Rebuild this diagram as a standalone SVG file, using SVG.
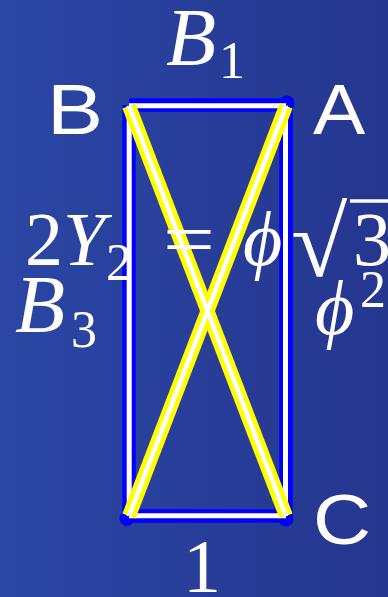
<svg xmlns="http://www.w3.org/2000/svg" width="388" height="597" viewBox="0 0 388 597">
  <defs>
    <linearGradient id="bg" x1="0" y1="0" x2="1" y2="0">
      <stop offset="0" stop-color="#2b46a4"/>
      <stop offset="1" stop-color="#25368f"/>
    </linearGradient>
  </defs>
  <style>
    .edgeB { stroke: #0000ff; stroke-width: 13.5; stroke-linecap: butt; fill: none; }
    .edgeW { stroke: #ffffff; stroke-width: 5; stroke-linecap: butt; fill: none; }
    .diagY { stroke: #ffff00; stroke-width: 14; stroke-linecap: butt; fill: none; }
    .diagW { stroke: #ffffff; stroke-width: 4.6; stroke-linecap: butt; fill: none; }
    .dot { fill: #0000ff; }
    .sans { font-family: "Liberation Sans", Arial, sans-serif; font-size: 70px; fill: #ffffff; }
    .math { font-family: "Liberation Serif", "Times New Roman", serif; font-size: 76px; fill: #ffffff; }
    .mi { font-style: italic; }
    .big { font-size: 82px; }
    .sub { font-family: "Liberation Serif", "Times New Roman", serif; font-size: 52px; fill: #ffffff; }
  </style>
  <rect x="0" y="0" width="388" height="597" fill="url(#bg)"/>

  <g id="connectors">
    <line class="edgeB" x1="129" y1="105" x2="286" y2="105"/>
    <line class="edgeB" x1="286" y1="105" x2="286" y2="516"/>
    <line class="edgeB" x1="286" y1="516" x2="129" y2="516"/>
    <line class="edgeB" x1="129" y1="516" x2="129" y2="105"/>
    <circle class="dot" cx="287" cy="103" r="7.5"/>
    <circle class="dot" cx="127" cy="518.5" r="7.5"/>
    <circle class="dot" cx="286" cy="519" r="7.5"/>
    <line class="edgeW" x1="129" y1="105.8" x2="286" y2="105.8"/>
    <line class="edgeW" x1="285.5" y1="105.8" x2="285.5" y2="516"/>
    <line class="edgeW" x1="286" y1="515.8" x2="129" y2="515.8"/>
    <line class="edgeW" x1="129.2" y1="516" x2="129.2" y2="105.8"/>
    <line class="diagY" x1="129" y1="106" x2="286" y2="516"/>
    <line class="diagY" x1="286" y1="106" x2="129" y2="516"/>
    <line class="diagW" x1="129" y1="106" x2="286" y2="516"/>
    <line class="diagW" x1="286" y1="106" x2="129" y2="516"/>
  </g>

  <g id="node-B">
    <text class="sans" transform="translate(47,134) scale(1.2,1)">B</text>
  </g>
  <g id="node-A">
    <text class="sans" transform="translate(313,134) scale(1.12,1)">A</text>
  </g>
  <g id="node-C">
    <text class="sans" transform="translate(313,544) scale(1.15,1)">C</text>
  </g>

  <g id="label-B1">
    <text class="math mi big" x="166" y="65">B</text>
    <text class="sub" x="219" y="78">1</text>
  </g>

  <g id="label-equation">
    <text class="math" x="25" y="265">2<tspan class="mi">Y</tspan></text>
    <text class="sub" x="106" y="280">2</text>
    <text class="math" x="163" y="265" textLength="52" lengthAdjust="spacingAndGlyphs">=</text>
    <text class="math mi" x="243" y="265">ϕ</text>
    <text class="math" transform="translate(291,276) scale(1.35,1.3)">√</text>
    <line x1="350" y1="201" x2="388" y2="201" stroke="#ffffff" stroke-width="3.5"/>
    <text class="math" x="353" y="265">3</text>
  </g>

  <g id="label-B3">
    <text class="math mi big" x="15" y="332">B</text>
    <text class="sub" x="71" y="347">3</text>
  </g>

  <g id="label-phi2">
    <text class="math mi" x="315" y="334">ϕ</text>
    <text class="sub" x="360" y="307">2</text>
  </g>

  <g id="label-1">
    <text class="math" x="183" y="592">1</text>
  </g>
</svg>
